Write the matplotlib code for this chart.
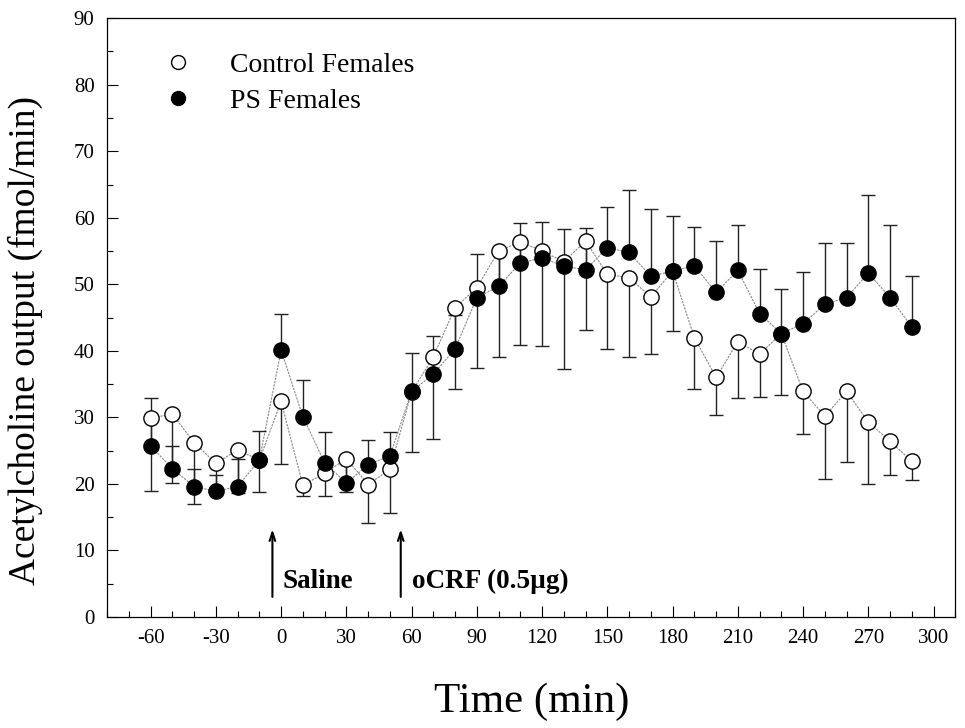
import matplotlib
matplotlib.use('Agg')
import matplotlib.pyplot as plt
from matplotlib.lines import Line2D
from matplotlib.ticker import MultipleLocator

# time points (min)
times = [-60, -50, -40, -30, -20, -10, 0, 10, 20, 30, 40, 50, 60, 70, 80, 90, 100, 110,
         120, 130, 140, 150, 160, 170, 180, 190, 200, 210, 220, 230, 240, 250, 260, 270, 280, 290]

# Control females: mean and (lower) error
control = [29.9, 30.5, 26.2, 23.1, 25.1, 23.6, 32.4, 19.8, 21.6, 23.8, 19.9, 22.2, 33.8, 39.1, 46.5, 49.5, 55.0, 56.4,
           55.0, 53.4, 56.5, 51.5, 51.0, 48.1, 52.0, 42.0, 36.0, 41.4, 39.5, 42.6, 33.9, 30.2, 33.9, 29.3, 26.4, 23.4]
control_err = [10.9, 10.4, 9.2, 4.5, 6.5, 4.8, 9.4, 1.6, 3.4, 5.0, 5.7, 6.6, 9.0, 12.3, 12.2, 12.1, 15.9, 15.5,
               14.3, 16.1, 13.4, 11.2, 11.9, 8.5, 9.0, 7.8, 5.7, 8.5, 6.5, 9.3, 6.4, 9.4, 10.6, 9.3, 5.1, 2.8]

# PS females: mean and (upper) error
ps = [25.7, 22.3, 19.6, 18.9, 19.6, 23.6, 40.1, 30.1, 23.2, 20.1, 22.9, 24.2, 33.9, 36.5, 40.3, 48.0, 49.7, 53.2,
      54.0, 52.7, 52.2, 55.5, 54.8, 51.2, 52.0, 52.8, 48.8, 52.1, 45.6, 42.6, 44.1, 47.0, 48.0, 51.7, 48.0, 43.6]
ps_err = [7.2, 3.4, 2.7, 2.5, 4.2, 4.4, 5.4, 5.5, 4.6, 3.7, 3.7, 3.6, 5.8, 5.8, 5.1, 6.6, 5.3, 6.0,
          5.4, 5.6, 6.3, 6.1, 9.4, 10.1, 8.3, 5.8, 7.7, 6.8, 6.7, 6.7, 7.7, 9.2, 8.2, 11.7, 10.9, 7.7]

zeros = [0] * len(times)

plt.rcParams['font.family'] = ['Liberation Serif', 'DejaVu Serif']
plt.rcParams['axes.unicode_minus'] = False

fig = plt.figure(figsize=(9.65, 7.28), dpi=100)
ax = fig.add_axes([0.111, 0.1525, 0.879, 0.8225])

# connecting lines
ax.plot(times, control, color='#888888', lw=0.8, ls=(0, (2, 1)), zorder=1)
ax.plot(times, ps, color='#888888', lw=0.8, ls=(0, (2, 1)), zorder=1)

# error bars: control downward, PS upward
ax.errorbar(times, control, yerr=[control_err, zeros], fmt='none', ecolor='#222222',
            elinewidth=1, capsize=5, capthick=1, zorder=2)
ax.errorbar(times, ps, yerr=[zeros, ps_err], fmt='none', ecolor='#222222',
            elinewidth=1, capsize=5, capthick=1, zorder=2)

ax.plot(times, control, 'o', ms=11, mfc='white', mec='black', mew=1, ls='none', zorder=3)
ax.plot(times, ps, 'o', ms=11, mfc='black', mec='black', mew=1, ls='none', zorder=4)

ax.set_xlim(-80, 310)
ax.set_ylim(0, 90)
ax.xaxis.set_major_locator(MultipleLocator(30))
ax.xaxis.set_minor_locator(MultipleLocator(10))
ax.yaxis.set_major_locator(MultipleLocator(10))
ax.yaxis.set_minor_locator(MultipleLocator(5))
ax.tick_params(which='major', direction='in', length=8, width=0.8, labelsize=15)
ax.tick_params(axis='x', which='major', pad=9)
ax.tick_params(axis='y', which='major', pad=9)
ax.tick_params(which='minor', direction='in', length=4, width=0.8)
for s in ax.spines.values():
    s.set_linewidth(0.9)

ax.set_xlabel('Time (min)', fontsize=31)
ax.xaxis.set_label_coords(0.5, -0.11)
ax.set_ylabel('Acetylcholine output (fmol/min)', fontsize=27)
ax.yaxis.set_label_coords(-0.075, 0.461)

# injection arrows
ax.annotate('', xy=(-4, 13.6), xytext=(-4, 2.6),
            arrowprops=dict(arrowstyle='->,head_length=0.6,head_width=0.2', color='black', lw=1.5))
ax.annotate('', xy=(55, 13.6), xytext=(55, 2.6),
            arrowprops=dict(arrowstyle='->,head_length=0.6,head_width=0.2', color='black', lw=1.5))
ax.text(0.5, 5.3, 'Saline', fontsize=19.5, fontweight='bold', va='center', ha='left')
ax.text(60, 5.3, 'oCRF (0.5µg)', fontsize=19.5, fontweight='bold', va='center', ha='left')

handles = [Line2D([], [], marker='o', ls='none', ms=10, mfc='white', mec='black', mew=1),
           Line2D([], [], marker='o', ls='none', ms=10, mfc='black', mec='black')]
ax.legend(handles, ['Control Females', 'PS Females'], loc='upper left', frameon=False,
          fontsize=20, bbox_to_anchor=(0.021, 0.985), handletextpad=0.9, labelspacing=0.4)

fig.savefig('out.png', dpi=100)
